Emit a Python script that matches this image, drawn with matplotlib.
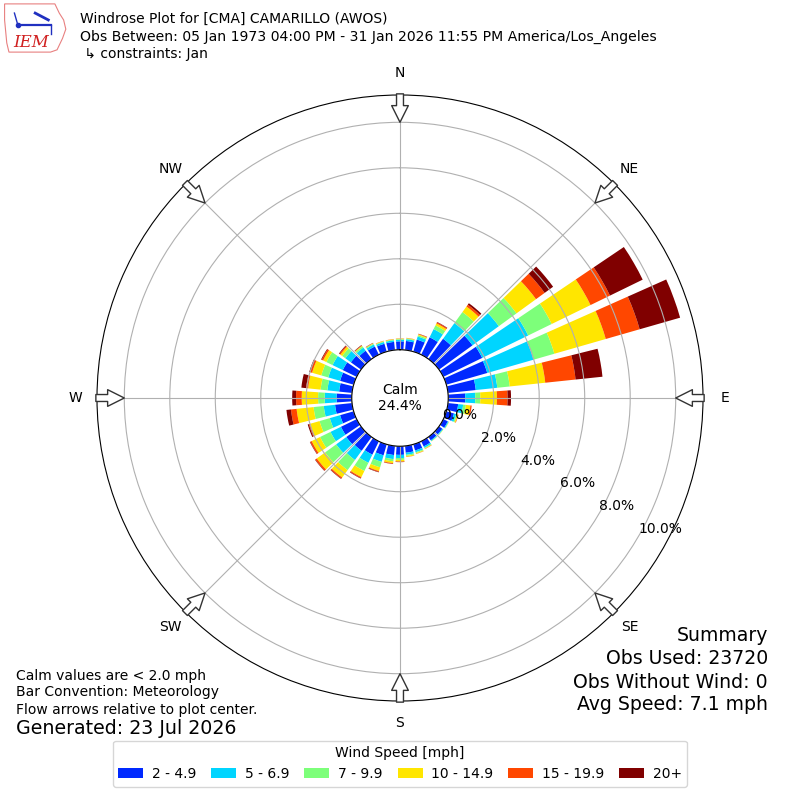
#!/usr/bin/env python
"""Windrose for CMA Camarillo, January obs (IEM style)."""
import matplotlib; matplotlib.use("Agg")
import matplotlib.pyplot as plt
import matplotlib.patches as mpatches
import numpy as np

# direction bins (deg, meteorological) and frequency [%] per speed bin
DIRS = np.arange(0, 360, 10)
SPEED_LABELS = ["2 - 4.9", "5 - 6.9", "7 - 9.9", "10 - 14.9", "15 - 19.9", "20+"]
S2_5 = [0.37, 0.40, 0.55, 0.85, 1.10, 1.82, 1.90, 1.87, 1.23, 0.75, 0.45, 0.35,
        0.22, 0.18, 0.18, 0.25, 0.28, 0.30, 0.38, 0.40, 0.50, 0.65, 0.75, 0.80,
        0.77, 0.62, 0.75, 0.67, 0.57, 0.62, 0.68, 0.55, 0.45, 0.40, 0.36, 0.36]
S5_7 = [0.07, 0.08, 0.14, 0.40, 0.85, 1.43, 2.25, 2.12, 0.95, 0.44, 0.22, 0.10,
        0.04, 0.04, 0.04, 0.07, 0.08, 0.09, 0.14, 0.18, 0.30, 0.40, 0.50, 0.55,
        0.51, 0.47, 0.50, 0.52, 0.52, 0.54, 0.50, 0.30, 0.17, 0.10, 0.08, 0.07]
S7_10 = [0.03, 0.03, 0.06, 0.18, 0.60, 0.96, 1.15, 0.95, 0.55, 0.22, 0.12, 0.05,
         0.01, 0.01, 0.01, 0.03, 0.04, 0.05, 0.08, 0.10, 0.25, 0.40, 0.55, 0.60,
         0.51, 0.47, 0.45, 0.29, 0.30, 0.32, 0.30, 0.17, 0.07, 0.04, 0.03, 0.03]
S10_15 = [0.02, 0.02, 0.04, 0.10, 0.30, 1.06, 1.90, 2.35, 1.57, 0.73, 0.20, 0.04,
          0.01, 0.01, 0.01, 0.02, 0.03, 0.04, 0.07, 0.08, 0.17, 0.30, 0.40, 0.45,
          0.41, 0.43, 0.75, 0.72, 0.55, 0.42, 0.16, 0.10, 0.03, 0.02, 0.02, 0.02]
S15_20 = [0.01, 0.01, 0.02, 0.05, 0.10, 0.47, 0.95, 1.55, 1.34, 0.47, 0.06, 0.02,
          0.00, 0.00, 0.00, 0.01, 0.01, 0.01, 0.02, 0.03, 0.04, 0.05, 0.06, 0.08,
          0.07, 0.06, 0.25, 0.25, 0.09, 0.08, 0.07, 0.05, 0.02, 0.01, 0.01, 0.01]
S20 = [0.00, 0.00, 0.01, 0.02, 0.08, 0.46, 1.60, 1.85, 1.19, 0.15, 0.00, 0.00,
       0.00, 0.00, 0.00, 0.00, 0.00, 0.00, 0.01, 0.01, 0.02, 0.02, 0.02, 0.02,
       0.02, 0.05, 0.20, 0.17, 0.21, 0.05, 0.03, 0.03, 0.02, 0.01, 0.00, 0.00]
SERIES = [S2_5, S5_7, S7_10, S10_15, S15_20, S20]
CALM = 24.4
RTICKS = [0, 2, 4, 6, 8, 10]
COMPASS = ["N", "NE", "E", "SE", "S", "SW", "W", "NW"]

colors = plt.cm.jet(np.arange(1, 7) / 6.0)

fig = plt.figure(figsize=(8, 8), dpi=100)
ax = fig.add_axes([0.12125, 0.12375, 0.7575, 0.7575], projection="polar")
ax.set_theta_zero_location("N")
ax.set_theta_direction(-1)

theta = np.deg2rad(DIRS)
width = np.deg2rad(8.0)
base = np.zeros(len(DIRS))
for vals, c, lab in zip(SERIES, colors, SPEED_LABELS):
    vals = np.asarray(vals)
    ax.bar(theta, vals, width=width, bottom=base, color=c, label=lab,
           linewidth=0, align="center")
    base = base + vals

ax.set_ylim(0, 11.2)
ax.set_rorigin(-2.12)
ax.set_yticks(RTICKS)
ax.set_yticklabels([f"{t:.1f}%" for t in RTICKS], fontsize=10)
ax.set_rlabel_position(120)
ax.set_xticks(np.deg2rad(np.arange(0, 360, 45)))
ax.set_xticklabels(COMPASS, fontsize=10)
ax.tick_params(axis="x", pad=5)
ax.grid(True, color="#b0b0b0", lw=0.8)

# inward flow arrows at each compass point
for ang in np.arange(0, 360, 45):
    t = np.deg2rad(ang)
    ax.annotate("", xy=(t, 10.0), xytext=(t, 11.25), annotation_clip=False,
                arrowprops=dict(arrowstyle="simple,head_length=1.2,head_width=1.2,tail_width=0.5",
                                fc="white", ec="#333333", lw=1.0, shrinkA=0, shrinkB=0,
                                mutation_scale=10))

ax.text(0.5, 0.5, f"Calm\n{CALM}%", transform=ax.transAxes, ha="center",
        va="center", fontsize=10)

# header
fig.text(0.1, 0.976, "Windrose Plot for [CMA] CAMARILLO (AWOS)", fontsize=10, va="center")
fig.text(0.1, 0.954, "Obs Between: 05 Jan 1973 04:00 PM - 31 Jan 2026 11:55 PM America/Los_Angeles",
         fontsize=10.1, va="center")
fig.text(0.1, 0.9325, " \u21b3 constraints: Jan", fontsize=10, va="center")

# rough IEM logo
lax = fig.add_axes([0.003, 0.932, 0.082, 0.066])
lax.set_xlim(0, 60); lax.set_ylim(0, 46); lax.axis("off")
iowa = [(2, 44), (48, 44), (50, 40), (52, 36), (56, 30), (58, 22), (55, 14),
        (52, 8), (50, 4), (44, 2), (6, 2), (4, 10), (3, 20), (2, 30)]
lax.add_patch(mpatches.Polygon(iowa, closed=True, fill=False, ec="#e88080", lw=0.8))
lax.plot([14, 44], [26, 26], color="#2030c0", lw=1.6)
lax.plot([14, 11], [26, 36], color="#2030c0", lw=1.0)
lax.plot([30, 42], [36, 30], color="#2030c0", lw=2.0)
lax.plot([44, 44], [26, 18], color="#2030c0", lw=1.0)
lax.plot([14], [26], "o", color="#2030c0", ms=3)
lax.text(10, 10, "IEM", color="#d02020", fontsize=12, family="DejaVu Serif",
         style="italic", va="center")

# footnotes
fig.text(0.02, 0.155, "Calm values are < 2.0 mph", fontsize=10, va="center")
fig.text(0.02, 0.135, "Bar Convention: Meteorology", fontsize=10, va="center")
fig.text(0.02, 0.1125, "Flow arrows relative to plot center.", fontsize=10, va="center")
fig.text(0.02, 0.089, "Generated: 23 Jul 2026", fontsize=13.7, va="center")

summary = ["Summary", "Obs Used: 23720", "Obs Without Wind: 0", "Avg Speed: 7.1 mph"]
for s, y in zip(summary, [0.206, 0.1775, 0.1475, 0.119]):
    fig.text(0.96, y, s, fontsize=13.6, ha="right", va="center")

handles, labels = ax.get_legend_handles_labels()
fig.legend(handles, labels, loc="lower center", bbox_to_anchor=(0.5, 0.008), ncol=6,
           title="Wind Speed [mph]", fontsize=10, title_fontsize=10,
           handlelength=1.8, columnspacing=1.1, handletextpad=0.6)

fig.savefig("out.png", dpi=100)
